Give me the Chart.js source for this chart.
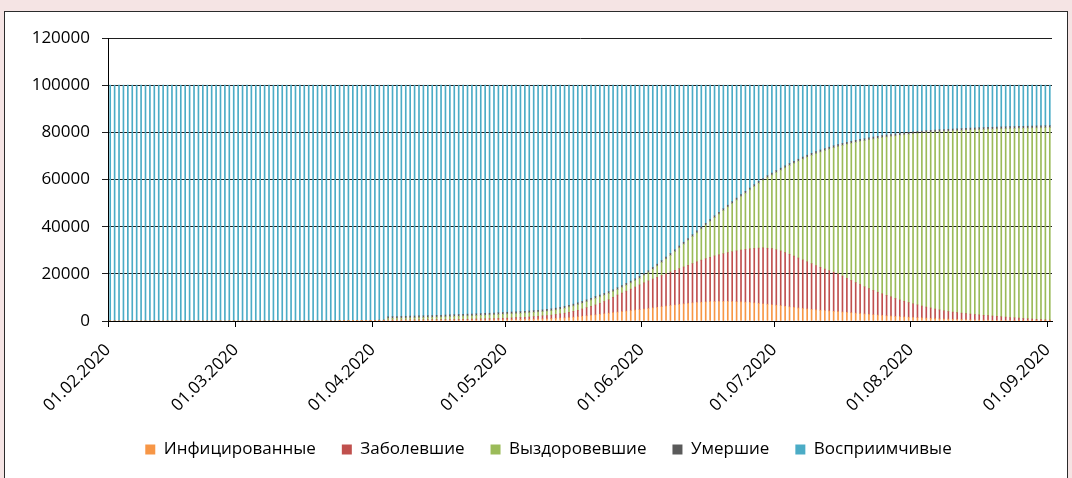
<!DOCTYPE html>
<html>
<head>
<meta charset="utf-8">
<script src="https://cdn.jsdelivr.net/npm/chart.js@4.4.1/dist/chart.umd.min.js"></script>
<style>
  html, body { margin: 0; padding: 0; }
  body { background: #f5e4e4; width: 1072px; height: 478px; overflow: hidden; position: relative; }
  #frame { position: absolute; left: 4px; top: 11px; width: 1062px; height: 480px; background: #fff; border: 1px solid #2b2b2b; }
  #chart { display: block; }
</style>
</head>
<body>
<div id="frame"><canvas id="chart" width="1062" height="466"></canvas></div>
<script>
// one value per day, 01.02.2020 .. 01.09.2020 (214 days)
const tickDays = [0, 29, 60, 90, 121, 151, 182, 213];
const tickLabels = ['01.02.2020', '01.03.2020', '01.04.2020', '01.05.2020',
                    '01.06.2020', '01.07.2020', '01.08.2020', '01.09.2020'];

const seriesNames = ['Инфицированные', 'Заболевшие', 'Выздоровевшие', 'Умершие', 'Восприимчивые'];
const seriesColors = ['#f79646', '#c0504d', '#9bbb59', '#5a5a5a', '#4bacc6'];

const infected = [
  0,0,0,0,0,0,0,0,0,0,
  0,0,0,0,0,0,0,0,0,0,
  0,0,0,0,0,0,0,0,0,0,
  0,0,0,0,0,0,0,0,0,0,
  0,0,0,0,0,0,0,0,0,0,
  0,0,20,30,40,50,70,90,110,130,
  150,170,190,200,205,210,220,225,235,240,
  250,260,270,280,290,300,310,320,330,340,
  350,365,380,395,410,425,440,455,470,485,
  500,540,580,620,660,700,760,820,880,940,
  1000,1100,1200,1300,1450,1620,1800,2000,2200,2400,
  2600,2830,3070,3300,3530,3770,4000,4200,4400,4600,
  4800,5050,5300,5550,5800,6050,6300,6550,6800,7030,
  7250,7480,7700,7830,7950,8080,8200,8230,8250,8280,
  8300,8230,8150,8080,8000,7830,7650,7480,7300,7100,
  6900,6700,6500,6250,6000,5750,5500,5300,5100,4900,
  4700,4550,4400,4250,4100,3950,3800,3650,3500,3330,
  3150,2980,2800,2650,2500,2350,2200,2080,1950,1830,
  1700,1600,1500,1400,1300,1200,1100,1000,900,840,
  780,710,650,600,550,500,450,410,380,340,
  300,280,250,230,200,180,160,150,130,120,
  110,100,90,80
];

const sick = [
  0,0,0,0,0,0,0,0,0,0,
  0,0,0,0,0,0,0,0,0,0,
  0,0,0,0,0,0,0,0,0,0,
  0,0,0,0,0,0,0,0,0,0,
  0,0,0,0,0,0,0,0,0,0,
  0,0,20,30,40,50,70,90,110,130,
  150,160,180,200,205,220,220,235,235,250,
  250,260,270,280,290,300,310,320,330,340,
  350,385,420,455,490,525,560,595,630,665,
  700,760,820,880,940,1000,1100,1200,1300,1400,
  1500,1670,1830,2000,2250,2480,2700,3080,3450,3830,
  4200,4700,5200,5700,6470,7230,7830,8470,9100,9800,
  10500,11100,11700,12220,12730,13250,13730,14220,14700,15170,
  15650,16120,16630,17240,17850,18320,18800,19370,19820,20250,
  20700,21140,21580,22020,22330,22740,23150,23420,23700,23750,
  23800,23500,23200,22750,22300,21750,21200,20600,20000,19400,
  18830,18220,17600,17080,16570,16050,15270,14480,13700,12970,
  12250,11520,10930,10320,9700,9180,8670,8120,7600,7070,
  6670,6230,5800,5430,5070,4700,4400,4100,3800,3510,
  3220,3070,2900,2730,2550,2430,2300,2170,2020,1910,
  1800,1670,1550,1420,1300,1170,1040,930,820,710,
  590,500,410,320
];

const recovered = [
  0,0,0,0,0,0,0,0,0,0,
  0,0,0,0,0,0,0,0,0,0,
  0,0,0,0,0,0,0,0,0,0,
  0,0,0,0,0,0,0,0,0,0,
  0,0,0,0,0,0,0,0,0,0,
  0,0,0,0,0,0,0,0,0,0,
  0,0,0,650,690,720,760,790,830,860,
  900,930,960,990,1050,1100,1150,1210,1270,1320,
  1380,1400,1430,1450,1480,1500,1550,1600,1650,1700,
  1750,1750,1750,1750,1750,1800,1790,1780,1770,1810,
  1850,1880,1970,2100,2150,2250,2400,2420,2500,2620,
  2800,2670,2630,2650,2450,2300,2370,2480,2600,2700,
  2800,3150,3500,4130,4770,5500,6270,7030,7900,8800,
  9700,10600,11470,12330,13200,14200,15200,16200,17230,18270,
  19300,20430,21570,22700,23870,25030,26200,27500,28600,29950,
  31150,32750,34250,35950,37650,39350,41050,42750,44350,45950,
  47420,48880,50250,51520,52780,53950,55380,56820,58150,59450,
  60750,61950,63120,64180,65250,66220,67180,68050,68900,69850,
  70580,71320,72050,72720,73330,73950,74500,75050,75550,76000,
  76450,76770,77100,77420,77750,78020,78250,78520,78750,79000,
  79200,79400,79650,79850,80050,80250,80450,80620,80800,80970,
  81150,81300,81450,81600
];

const dead = [
  0,0,0,0,0,0,0,0,0,0,
  0,0,0,0,0,0,0,0,0,0,
  0,0,0,0,0,0,0,0,0,0,
  0,0,0,0,0,0,0,0,0,0,
  0,0,0,0,0,0,0,0,0,0,
  0,0,0,0,0,0,0,0,0,0,
  0,0,0,750,750,750,750,750,750,750,
  750,750,750,750,750,750,750,750,750,750,
  750,750,750,750,750,750,750,750,750,750,
  750,750,750,750,750,750,750,750,750,750,
  800,800,800,800,800,800,800,800,800,800,
  800,800,800,800,800,800,800,800,800,800,
  800,800,800,800,800,800,800,800,800,800,
  800,800,800,800,800,800,800,800,800,800,
  800,800,800,800,800,800,800,800,800,800,
  850,850,850,850,850,850,850,850,850,850,
  850,850,850,850,850,850,850,850,850,850,
  850,850,850,850,850,850,850,850,850,850,
  850,850,850,850,850,850,850,850,850,850,
  850,850,850,850,850,850,850,850,850,850,
  850,850,850,850,850,850,850,850,850,850,
  850,850,850,850
];

const susceptible = [
  100000,100000,100000,100000,100000,100000,100000,100000,100000,100000,
  100000,100000,100000,100000,100000,100000,100000,100000,100000,100000,
  100000,100000,100000,100000,100000,100000,100000,100000,100000,100000,
  100000,100000,100000,100000,100000,100000,100000,100000,100000,100000,
  100000,100000,100000,100000,100000,100000,100000,100000,100000,100000,
  100000,100000,99960,99940,99920,99900,99860,99820,99780,99740,
  99700,99670,99630,98200,98150,98100,98050,98000,97950,97900,
  97850,97800,97750,97700,97620,97550,97480,97400,97320,97250,
  97170,97100,97020,96950,96870,96800,96700,96600,96500,96400,
  96300,96200,96100,96000,95900,95750,95600,95450,95300,95100,
  94850,94550,94200,93800,93350,92850,92300,91700,91050,90350,
  89600,89000,88300,87550,86750,85900,85000,84050,83100,82100,
  81100,79900,78700,77300,75900,74400,72900,71400,69800,68200,
  66600,65000,63400,61800,60200,58600,57000,55400,53900,52400,
  50900,49400,47900,46400,45000,43600,42200,40800,39600,38400,
  37300,36200,35200,34200,33200,32300,31400,30500,29700,28900,
  28200,27500,26900,26300,25700,25200,24700,24200,23800,23400,
  23000,22700,22300,22000,21700,21400,21100,20900,20700,20400,
  20200,20000,19800,19600,19450,19300,19150,19000,18900,18800,
  18700,18600,18500,18400,18300,18200,18150,18050,18000,17900,
  17850,17800,17700,17650,17600,17550,17500,17450,17400,17350,
  17300,17250,17200,17150
];

const seriesValues = [infected, sick, recovered, dead, susceptible];

Chart.defaults.font.family = "'Open Sans', 'Noto Sans', sans-serif";
Chart.defaults.color = '#000';

// bar for a day sits in the middle of that day's slot on the date axis
const toPoints = arr => arr.map((v, i) => ({x: i + 0.5, y: v}));

// the legend in the original sits a little right of the canvas centre
const legendShift = {
    id: 'legendShift',
    afterUpdate(chart) {
        chart.legend.left += 20;
        chart.legend.right += 20;
    }
};

new Chart(document.getElementById('chart'), {
    type: 'bar',
    data: {
        datasets: seriesNames.map((name, k) => ({
            label: name,
            data: toPoints(seriesValues[k]),
            backgroundColor: seriesColors[k],
            borderWidth: 0,
            barThickness: 1.0
        }))
    },
    options: {
        responsive: false,
        animation: false,
        layout: {padding: {top: 26, right: 15, bottom: 10, left: 0}},
        plugins: {
            tooltip: {enabled: false},
            legend: {
                position: 'bottom',
                labels: {
                    boxWidth: 10,
                    boxHeight: 10,
                    padding: 26,
                    font: {size: 17}
                }
            }
        },
        scales: {
            x: {
                type: 'linear',
                stacked: true,
                min: 0,
                max: 214,
                offset: false,
                afterBuildTicks: scale => {
                    scale.ticks = tickDays.map(d => ({value: d}));
                },
                afterFit: scale => {
                    scale.height = 94;
                    scale.paddingLeft = 0;
                    scale.paddingRight = 0;
                },
                ticks: {
                    autoSkip: false,
                    minRotation: 45,
                    maxRotation: 45,
                    padding: 13,
                    font: {size: 17},
                    callback: v => tickLabels[tickDays.indexOf(v)]
                },
                grid: {offset: false, drawOnChartArea: false, drawTicks: true, tickLength: 6, color: '#000'},
                border: {color: '#000', width: 1}
            },
            y: {
                stacked: true,
                min: 0,
                max: 120000,
                z: 1,
                afterFit: scale => { scale.width = 103; },
                ticks: {
                    stepSize: 20000,
                    padding: 12,
                    font: {size: 17},
                    callback: v => String(v)
                },
                grid: {color: '#1e1e1e', lineWidth: 1, tickLength: 6},
                border: {color: '#000', width: 1}
            }
        }
    },
    plugins: [legendShift]
});
</script>
</body>
</html>
